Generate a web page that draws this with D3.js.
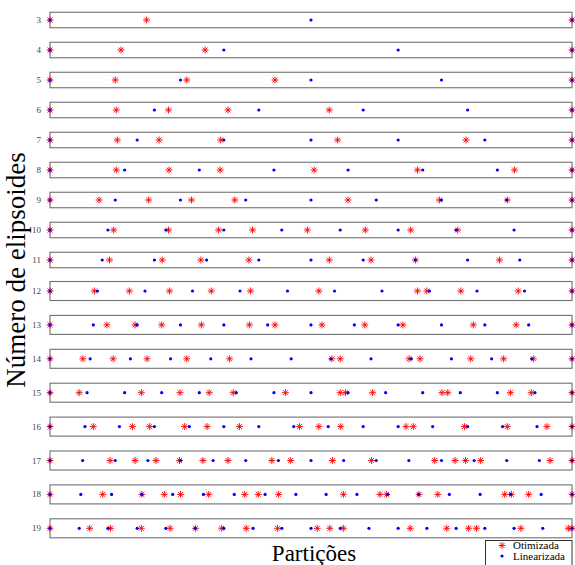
<!DOCTYPE html>
<html>
<head>
<meta charset="utf-8">
<script src="https://cdn.jsdelivr.net/npm/d3@7"></script>
<style>
  body { margin: 0; background: #fff; }
  text { font-family: "Liberation Serif", "Times New Roman", serif; }
</style>
</head>
<body>
<div id="chart"></div>
<script>
let width = 575;
let height = 565;

// numero de elipsoides (uma linha por valor)
const elipsoides = [3, 4, 5, 6, 7, 8, 9, 10, 11, 12, 13, 14, 15, 16, 17, 18, 19];

// particoes otimizadas (vermelho)
const otimizada = [
    [0, 0.185, 1],
    [0, 0.136, 0.297, 1],
    [0, 0.125, 0.262, 0.431, 1],
    [0, 0.127, 0.227, 0.341, 0.535, 1],
    [0, 0.129, 0.209, 0.327, 0.551, 0.797, 1],
    [0, 0.127, 0.228, 0.326, 0.506, 0.704, 0.890, 1],
    [0, 0.094, 0.189, 0.271, 0.354, 0.571, 0.746, 0.876, 1],
    [0, 0.122, 0.227, 0.323, 0.388, 0.493, 0.604, 0.691, 0.781, 1],
    [0, 0.114, 0.215, 0.289, 0.381, 0.535, 0.615, 0.700, 0.861, 1],
    [0, 0.085, 0.152, 0.229, 0.309, 0.384, 0.515, 0.704, 0.722, 0.787, 0.897, 1],
    [0, 0.109, 0.163, 0.214, 0.290, 0.382, 0.431, 0.521, 0.603, 0.676, 0.811, 0.893, 1],
    [0, 0.063, 0.121, 0.186, 0.262, 0.344, 0.540, 0.556, 0.688, 0.709, 0.806, 0.869, 0.926, 1],
    [0, 0.056, 0.175, 0.249, 0.305, 0.351, 0.451, 0.556, 0.566, 0.618, 0.751, 0.762, 0.882, 0.922, 1],
    [0, 0.083, 0.158, 0.191, 0.258, 0.301, 0.363, 0.478, 0.515, 0.557, 0.682, 0.696, 0.794, 0.876, 0.952, 1],
    [0, 0.115, 0.163, 0.203, 0.248, 0.293, 0.341, 0.425, 0.461, 0.541, 0.616, 0.737, 0.776, 0.796, 0.825, 0.958, 1],
    [0, 0.101, 0.176, 0.219, 0.250, 0.304, 0.373, 0.399, 0.438, 0.562, 0.632, 0.645, 0.707, 0.743, 0.871, 0.884, 0.917, 1],
    [0, 0.076, 0.116, 0.175, 0.230, 0.279, 0.329, 0.376, 0.436, 0.512, 0.536, 0.562, 0.690, 0.760, 0.802, 0.817, 0.902, 0.993, 1]
];

// particoes linearizadas (azul)
const linearizada = [
    [0, 0.5, 1],
    [0, 0.333, 0.667, 1],
    [0, 0.25, 0.5, 0.75, 1],
    [0, 0.2, 0.4, 0.6, 0.8, 1],
    [0, 0.167, 0.333, 0.5, 0.667, 0.833, 1],
    [0, 0.143, 0.286, 0.429, 0.571, 0.714, 0.857, 1],
    [0, 0.125, 0.25, 0.375, 0.5, 0.625, 0.75, 0.875, 1],
    [0, 0.111, 0.222, 0.333, 0.444, 0.556, 0.667, 0.778, 0.889, 1],
    [0, 0.1, 0.2, 0.3, 0.4, 0.5, 0.6, 0.7, 0.8, 0.9, 1],
    [0, 0.091, 0.182, 0.273, 0.364, 0.455, 0.545, 0.636, 0.727, 0.818, 0.909, 1],
    [0, 0.083, 0.167, 0.25, 0.333, 0.417, 0.5, 0.583, 0.667, 0.75, 0.833, 0.917, 1],
    [0, 0.077, 0.154, 0.231, 0.308, 0.385, 0.462, 0.538, 0.615, 0.692, 0.769, 0.846, 0.923, 1],
    [0, 0.071, 0.143, 0.214, 0.286, 0.357, 0.429, 0.5, 0.571, 0.643, 0.714, 0.786, 0.857, 0.929, 1],
    [0, 0.067, 0.133, 0.2, 0.267, 0.333, 0.4, 0.467, 0.533, 0.6, 0.667, 0.733, 0.8, 0.867, 0.933, 1],
    [0, 0.0625, 0.125, 0.1875, 0.25, 0.3125, 0.375, 0.4375, 0.5, 0.5625, 0.625, 0.6875, 0.75, 0.8125, 0.875, 0.9375, 1],
    [0, 0.059, 0.118, 0.176, 0.235, 0.294, 0.353, 0.412, 0.471, 0.529, 0.588, 0.647, 0.706, 0.765, 0.824, 0.882, 0.941, 1],
    [0, 0.056, 0.111, 0.167, 0.222, 0.278, 0.333, 0.389, 0.444, 0.5, 0.556, 0.611, 0.667, 0.722, 0.778, 0.833, 0.889, 0.944, 1]
];

const seriesNames = ['Otimizada', 'Linearizada'];

let svg = d3.select('#chart')
            .append('svg')
            .attr('width', width)
            .attr('height', height);

let x = d3.scaleLinear().domain([0, 1]).range([50, 572]);

// as linhas de cima sao mais baixas que as de baixo (subplots diferentes)
function rowLayout(i) {
    if (i < 9) return { cy: 20 + 30 * i, h: 15.5 };
    return { cy: 291 + 33.9 * (i - 9), h: 19 };
}

function asterisk(r) {
    let p = d3.path();
    let d = r * Math.SQRT1_2;
    p.moveTo(-r, 0); p.lineTo(r, 0);
    p.moveTo(0, -r); p.lineTo(0, r);
    p.moveTo(-d, -d); p.lineTo(d, d);
    p.moveTo(-d, d); p.lineTo(d, -d);
    return p.toString();
}

let rows = svg.append('g')
              .selectAll('g')
              .data(elipsoides)
              .enter()
              .append('g')
              .attr('transform', function(d, i) {
                  return 'translate(0,' + rowLayout(i).cy + ')';
              });

rows.append('rect')
    .attr('x', x(0))
    .attr('y', function(d, i) { return -rowLayout(i).h / 2; })
    .attr('width', x(1) - x(0))
    .attr('height', function(d, i) { return rowLayout(i).h; })
    .attr('fill', 'none')
    .attr('stroke', '#707070')
    .attr('stroke-width', 1.1);

rows.append('text')
    .attr('x', 41)
    .attr('y', 3)
    .attr('text-anchor', 'end')
    .style('font-size', '9px')
    .style('fill', '#444')
    .text(function(d) { return d; });

rows.selectAll('path.otm')
    .data(function(d, i) { return otimizada[i]; })
    .enter()
    .append('path')
    .attr('class', 'otm')
    .attr('d', asterisk(3.5))
    .attr('transform', function(d) { return 'translate(' + x(d) + ',0)'; })
    .attr('stroke', '#ff0000')
    .attr('stroke-width', 0.9)
    .attr('fill', 'none');

rows.selectAll('circle.lin')
    .data(function(d, i) { return linearizada[i]; })
    .enter()
    .append('circle')
    .attr('class', 'lin')
    .attr('cx', function(d) { return x(d); })
    .attr('cy', 0)
    .attr('r', 1.6)
    .attr('fill', '#0000ff');

// titulos dos eixos
svg.append('text')
    .attr('x', 314)
    .attr('y', 561)
    .attr('text-anchor', 'middle')
    .style('font-size', '23px')
    .text('Partições');

svg.append('text')
    .attr('transform', 'translate(25,270) rotate(-90)')
    .attr('text-anchor', 'middle')
    .style('font-size', '27px')
    .text('Número de elipsoides');

// legenda
let legend = svg.append('g');
legend.append('rect')
    .attr('x', 485.5)
    .attr('y', 540.5)
    .attr('width', 86.5)
    .attr('height', 30)
    .attr('fill', '#fff')
    .attr('stroke', '#333')
    .attr('stroke-width', 1);

legend.append('path')
    .attr('d', asterisk(3.5))
    .attr('transform', 'translate(502,545.5)')
    .attr('stroke', '#ff0000')
    .attr('stroke-width', 0.9)
    .attr('fill', 'none');

legend.append('circle')
    .attr('cx', 502)
    .attr('cy', 556)
    .attr('r', 1.6)
    .attr('fill', '#0000ff');

legend.selectAll('text')
    .data(seriesNames)
    .enter()
    .append('text')
    .attr('x', 513)
    .attr('y', function(d, i) { return 549 + i * 10.5; })
    .style('font-size', '11px')
    .text(function(d) { return d; });
</script>
</body>
</html>
